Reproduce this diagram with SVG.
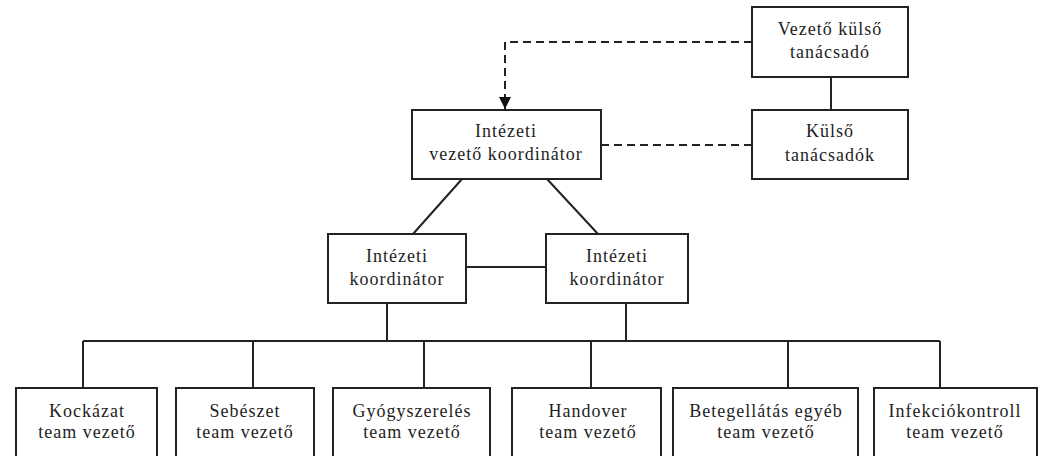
<svg xmlns="http://www.w3.org/2000/svg" width="1048" height="456" viewBox="0 0 1048 456">
  <style>
    .box { fill: #ffffff; stroke: #222222; stroke-width: 2; }
    .lbl { font-family: "Liberation Serif", "Times New Roman", serif; font-size: 18px; letter-spacing: 1px; fill: #1e1e1e; text-anchor: middle; }
    .ln { fill: none; stroke: #222222; stroke-width: 2; }
    .dash { fill: none; stroke: #222222; stroke-width: 2; stroke-dasharray: 8 5; }
  </style>
  <defs>
    <marker id="arrow" markerUnits="userSpaceOnUse" markerWidth="12" markerHeight="12" refX="12" refY="6" orient="auto">
      <path d="M0,0 L12,6 L0,12 z" fill="#111111"/>
    </marker>
  </defs>
  <rect x="0" y="0" width="1048" height="456" fill="#ffffff"/>

  <g id="connectors">
    <path class="dash" d="M752,42 H505 V109" marker-end="url(#arrow)"/>
    <path class="dash" d="M601,145 H752"/>
    <path class="ln" d="M831,77 V110"/>
    <path class="ln" d="M462,179 L413,234"/>
    <path class="ln" d="M547,179 L598,234"/>
    <path class="ln" d="M466,267 H546"/>
    <path class="ln" d="M387,303 V341"/>
    <path class="ln" d="M626,303 V341"/>
    <path class="ln" d="M83,341 H940"/>
    <path class="ln" d="M83,341 V388"/>
    <path class="ln" d="M253,341 V388"/>
    <path class="ln" d="M424,341 V388"/>
    <path class="ln" d="M591,341 V388"/>
    <path class="ln" d="M788,341 V388"/>
    <path class="ln" d="M940,341 V388"/>
  </g>

  <g id="node-vezeto-kulso">
    <rect class="box" x="752" y="7" width="156" height="70"/>
    <text class="lbl" x="830" y="35">Vezető külső</text>
    <text class="lbl" x="830" y="58">tanácsadó</text>
  </g>

  <g id="node-kulso">
    <rect class="box" x="752" y="110" width="156" height="69"/>
    <text class="lbl" x="830" y="137">Külső</text>
    <text class="lbl" x="830" y="161">tanácsadók</text>
  </g>

  <g id="node-intezeti-vezeto">
    <rect class="box" x="412" y="110" width="189" height="69"/>
    <text class="lbl" x="506" y="137">Intézeti</text>
    <text class="lbl" x="506" y="160">vezető koordinátor</text>
  </g>

  <g id="node-koord-left">
    <rect class="box" x="328" y="234" width="138" height="69"/>
    <text class="lbl" x="397" y="262">Intézeti</text>
    <text class="lbl" x="397" y="285">koordinátor</text>
  </g>

  <g id="node-koord-right">
    <rect class="box" x="546" y="234" width="142" height="69"/>
    <text class="lbl" x="617" y="262">Intézeti</text>
    <text class="lbl" x="617" y="285">koordinátor</text>
  </g>

  <g id="node-kockazat">
    <rect class="box" x="16" y="388" width="141" height="80"/>
    <text class="lbl" x="87" y="417">Kockázat</text>
    <text class="lbl" x="87" y="438">team vezető</text>
  </g>

  <g id="node-sebeszet">
    <rect class="box" x="176" y="388" width="138" height="80"/>
    <text class="lbl" x="245" y="417">Sebészet</text>
    <text class="lbl" x="245" y="438">team vezető</text>
  </g>

  <g id="node-gyogyszereles">
    <rect class="box" x="333" y="388" width="157" height="80"/>
    <text class="lbl" x="412" y="417">Gyógyszerelés</text>
    <text class="lbl" x="412" y="438">team vezető</text>
  </g>

  <g id="node-handover">
    <rect class="box" x="512" y="388" width="149" height="80"/>
    <text class="lbl" x="588" y="417">Handover</text>
    <text class="lbl" x="588" y="438">team vezető</text>
  </g>

  <g id="node-betegellatas">
    <rect class="box" x="673" y="388" width="185" height="80"/>
    <text class="lbl" x="766" y="417">Betegellátás egyéb</text>
    <text class="lbl" x="766" y="438">team vezető</text>
  </g>

  <g id="node-infekcio">
    <rect class="box" x="874" y="388" width="163" height="80"/>
    <text class="lbl" x="955" y="417">Infekciókontroll</text>
    <text class="lbl" x="955" y="438">team vezető</text>
  </g>
</svg>
